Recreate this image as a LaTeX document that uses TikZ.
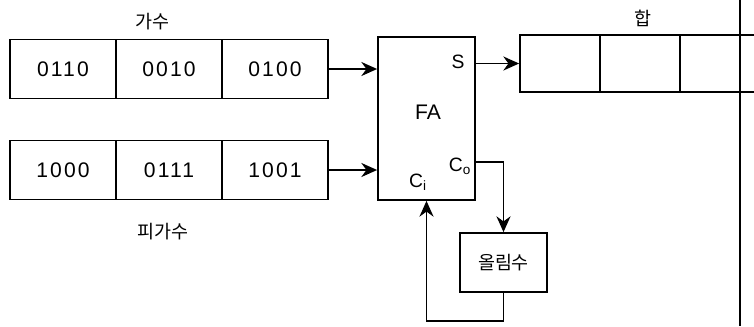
\documentclass[tikz,border=0pt]{standalone}
\usepackage{fontspec}
\setmainfont{Liberation Sans}
\newfontfamily\krfont{Noto Sans CJK KR}
\newfontfamily\digfont[LetterSpace=10]{Liberation Sans}
\usetikzlibrary{arrows.meta}
\tikzset{
  cell/.style={draw, line width=1pt, minimum width=2.12cm, minimum height=1.18cm, inner sep=0pt, font=\digfont\fontsize{12}{14}\selectfont},
  sumcell/.style={draw, line width=1pt, minimum width=1.6cm, minimum height=1.14cm, inner sep=0pt},
  blk/.style={draw, line width=1pt, inner sep=0pt},
  lbl/.style={font=\krfont\fontsize{10.5}{12}\selectfont},
  pin/.style={font=\fontsize{11}{13}\selectfont},
  arr/.style={-{Stealth[length=9pt,width=8pt]}, line width=1pt},
}
\begin{document}
\begin{tikzpicture}[x=0.02cm, y=-0.02cm]
\clip (0,0) rectangle (754,326);
% addend register
\node[lbl] (lbla) at (152,22) {가수};
\node[cell] (a1) at (63,69) {0110};
\node[cell] (a2) at (169,69) {0010};
\node[cell] (a3) at (275,69) {0100};
% augend register
\node[cell] (b1) at (63,170) {1000};
\node[cell] (b2) at (169,170) {0111};
\node[cell] (b3) at (275,170) {1001};
\node[lbl] (lblb) at (163,232) {피가수};
% full adder
\node[blk, minimum width=1.94cm, minimum height=3.26cm] (fa) at (426.5,118.5) {};
\node[pin, font=\fontsize{12}{14}\selectfont] (falbl) at (428,112) {FA};
\node[pin] (s) at (458,62) {S};
\node[pin] (co) at (460,166) {C$_\mathrm{o}$};
\node[pin] (ci) at (418,182) {C$_\mathrm{i}$};
% sum register
\node[lbl] (lbls) at (643,18) {합};
\node[sumcell] (s1) at (560,63.5) {};
\node[sumcell] (s2) at (640,63.5) {};
\node[sumcell] (s3) at (720,63.5) {};
% carry
\node[blk, minimum width=1.74cm, minimum height=1.18cm, lbl] (carry) at (503.5,262.5) {올림수};
\coordinate (cout) at (475,162);
% wires
\draw[arr] (a3.east) -- (a3.east -| fa.west);
\draw[arr] (b3.east) -- (b3.east -| fa.west);
\draw[arr] (s1.west -| fa.east) -- (s1.west);
\draw[arr] (cout) -| (carry.north);
\draw[arr] (carry.south) -- ++(0,28) -| (fa.south);
% edge line
\draw[line width=0.8pt] (740,0) -- (740,326);
\end{tikzpicture}
\end{document}
